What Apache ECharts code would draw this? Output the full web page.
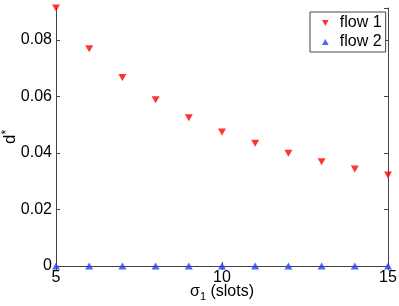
<!DOCTYPE html>
<html><head><meta charset="utf-8">
<script src="https://cdn.jsdelivr.net/npm/echarts@6/dist/echarts.min.js"></script>
<style>html,body{margin:0;padding:0;background:#fff}#c{width:399px;height:306px}</style>
</head><body><div id="c"></div>
<script>
const sigma = [5,6,7,8,9,10,11,12,13,14,15];
const flow1 = [0.0913,0.0769,0.0667,0.0588,0.0525,0.0474,0.0434,0.0399,0.0369,0.0343,0.0322];
const flow2 = [0,0,0,0,0,0,0,0,0,0,0];
const yTicks = [0,0.02,0.04,0.06,0.08];
const xTicks = [5,10,15];
const F = 'Liberation Sans, Arial, Helvetica, sans-serif';
const ax = '#444';
const chart = echarts.init(document.getElementById('c'));
const downTri = 'path://M0,0 L10,0 L5,9 Z';
const upTri = 'path://M5,0 L10,9 L0,9 Z';
chart.setOption({
  animation:false,
  grid:{left:56,right:11,top:8,bottom:40,containLabel:false,outerBoundsMode:'none'},
  xAxis:[{type:'value',min:5,max:15,interval:5,position:'bottom',
    axisLine:{lineStyle:{color:ax,width:1}},
    axisTick:{inside:true,length:4,lineStyle:{color:ax}},
    axisLabel:{color:'#000',fontFamily:F,fontSize:16,margin:4,formatter:v=>xTicks.includes(v)?String(v):''},
    splitLine:{show:false},
    name:'{a|σ}{s|1}{a| (slots)}',nameLocation:'middle',nameGap:16,nameMoveOverlap:false,
    nameTextStyle:{rich:{a:{fontFamily:F,fontSize:16,color:'#000'},s:{fontFamily:F,fontSize:11,color:'#000',verticalAlign:'bottom',padding:[9,0,0,0]}}}
  },{type:'value',min:5,max:15,interval:5,position:'top',
    axisLine:{lineStyle:{color:ax,width:1}},
    axisTick:{inside:true,length:4,lineStyle:{color:ax}},
    axisLabel:{show:false},splitLine:{show:false}}],
  yAxis:[{type:'value',min:0,max:0.0913,interval:0.02,position:'left',
    axisLine:{show:true,lineStyle:{color:ax,width:1}},
    axisTick:{show:true,inside:true,length:4,lineStyle:{color:ax}},
    axisLabel:{color:'#000',fontFamily:F,fontSize:16,margin:4,showMaxLabel:false,
      formatter:v=>{const t=yTicks.find(x=>Math.abs(x-v)<1e-9);return t===undefined?'':(t===0?'0':t.toFixed(2));}},
    splitLine:{show:false},
    name:'{a|d}{s|*}',nameLocation:'middle',nameGap:46,nameRotate:90,nameMoveOverlap:false,
    nameTextStyle:{verticalAlign:'middle',rich:{a:{fontFamily:F,fontSize:17,color:'#000'},s:{fontFamily:F,fontSize:12,color:'#000',verticalAlign:'top',padding:[0,0,7,0]}}}
  },{type:'value',min:0,max:0.0913,interval:0.02,position:'right',
    axisLine:{show:true,lineStyle:{color:ax,width:1}},
    axisTick:{show:true,inside:true,length:4,lineStyle:{color:ax}},
    axisLabel:{show:false},splitLine:{show:false}}],
  legend:{orient:'vertical',left:310,top:12,padding:[3,4,2,12],itemGap:3,
    borderColor:ax,borderWidth:1,backgroundColor:'#fff',itemWidth:7,itemHeight:6,
    textStyle:{fontFamily:F,fontSize:16,color:'#000',padding:[0,0,0,6]},
    data:[{name:'flow 1',icon:downTri},{name:'flow 2',icon:upTri}]},
  series:[
    {name:'flow 1',type:'scatter',symbol:downTri,symbolSize:[8,7],clip:false,
      itemStyle:{color:'#ff0000'},data:sigma.map((x,i)=>[x,flow1[i]])},
    {name:'flow 2',type:'scatter',symbol:upTri,symbolSize:[8,7],clip:false,
      itemStyle:{color:'#2040ff'},data:sigma.map((x,i)=>[x,flow2[i]])}
  ]
});
</script></body></html>
